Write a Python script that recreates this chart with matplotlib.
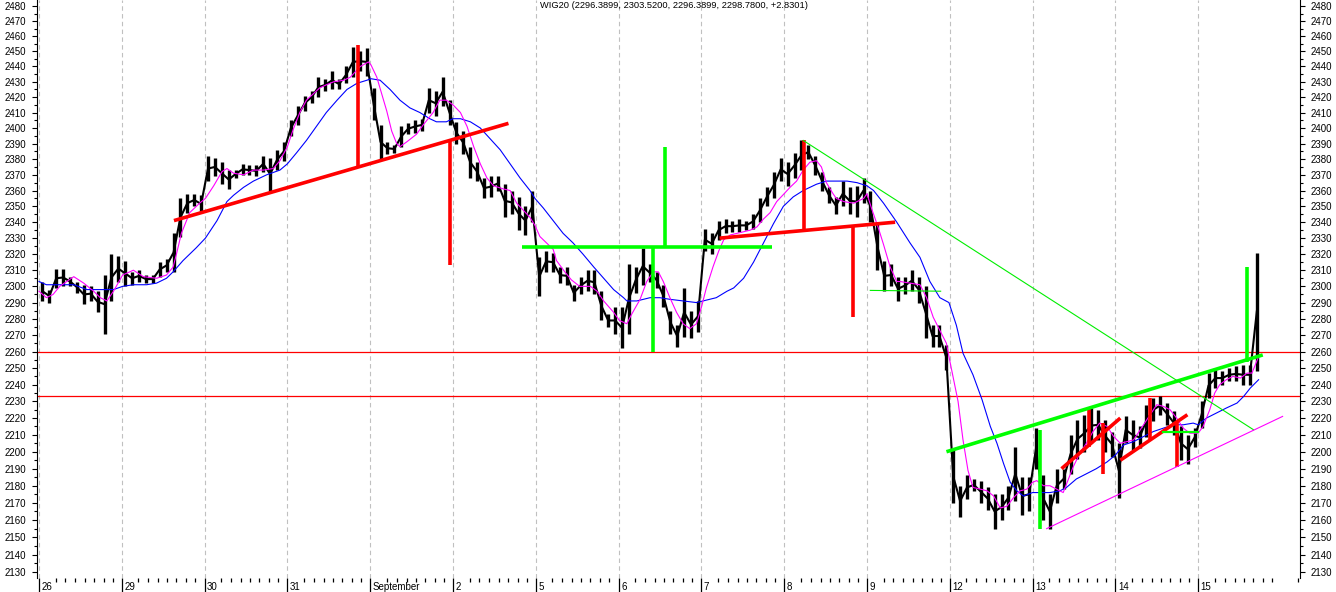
import matplotlib
matplotlib.use("Agg")
import matplotlib.pyplot as plt
import matplotlib.transforms as mtransforms
from matplotlib.ticker import FixedLocator, NullFormatter, FuncFormatter

plt.rcParams['font.family'] = ['Liberation Sans', 'DejaVu Sans']

title = "WIG20 (2296.3899, 2303.5200, 2296.3899, 2298.7800, +2.8301)"
days = ["26", "29", "30", "31", "September", "2", "5", "6", "7", "8",
        "9", "12", "13", "14", "15"]
bars_per_day = 12

# intraday bars, 12 per session (last session unfinished)
bar_low = [
    2291, 2290, 2299, 2300, 2300, 2296, 2289, 2291, 2284, 2271, 2291, 2303,  # 26
    2300, 2301, 2303, 2302, 2302, 2306, 2309, 2309, 2331, 2346, 2350, 2346,  # 29
    2366, 2369, 2364, 2361, 2368, 2370, 2370, 2369, 2372, 2360, 2373, 2379,  # 30
    2395, 2402, 2411, 2416, 2420, 2424, 2425, 2425, 2429, 2433, 2437, 2434,  # 31
    2405, 2380, 2383, 2384, 2388, 2396, 2397, 2398, 2410, 2408, 2414, 2402,  # 1
    2390, 2383, 2368, 2366, 2355, 2356, 2360, 2343, 2345, 2335, 2332, 2340,  # 2
    2294, 2309, 2309, 2302, 2301, 2291, 2295, 2297, 2295, 2279, 2275, 2271,  # 5
    2262, 2271, 2296, 2301, 2303, 2299, 2287, 2271, 2263, 2269, 2268, 2272,  # 6
    2322, 2320, 2329, 2333, 2334, 2334, 2335, 2336, 2340, 2350, 2355, 2366,  # 7
    2363, 2368, 2373, 2380, 2370, 2360, 2352, 2345, 2350, 2345, 2343, 2352,  # 8
    2340, 2310, 2297, 2300, 2291, 2295, 2297, 2290, 2268, 2263, 2263, 2249,  # 9
    2170, 2162, 2172, 2177, 2170, 2166, 2155, 2160, 2166, 2171, 2163, 2165,  # 12
    2190, 2160, 2155, 2170, 2178, 2187, 2196, 2200, 2205, 2207, 2200, 2197,  # 13
    2173, 2205, 2201, 2202, 2209, 2218, 2222, 2216, 2210, 2195, 2193, 2203,  # 14
    2214, 2232, 2238, 2240, 2242, 2242, 2240, 2240, 2248,                    # 15
]
bar_high = [
    2303, 2298, 2311, 2311, 2306, 2303, 2301, 2300, 2297, 2307, 2320, 2319,
    2316, 2309, 2310, 2307, 2307, 2315, 2317, 2333, 2355, 2358, 2358, 2357,
    2382, 2381, 2378, 2373, 2373, 2377, 2376, 2376, 2382, 2381, 2386, 2391,
    2405, 2414, 2421, 2424, 2433, 2432, 2437, 2432, 2440, 2453, 2450, 2452,
    2426, 2402, 2391, 2389, 2401, 2403, 2405, 2406, 2426, 2424, 2433, 2418,
    2404, 2398, 2388, 2378, 2368, 2369, 2369, 2364, 2360, 2356, 2350, 2360,
    2318, 2322, 2321, 2312, 2312, 2301, 2306, 2310, 2310, 2297, 2283, 2287,
    2287, 2314, 2312, 2324, 2314, 2309, 2301, 2285, 2276, 2299, 2285, 2291,
    2336, 2333, 2341, 2342, 2341, 2342, 2341, 2345, 2355, 2362, 2372, 2381,
    2378, 2384, 2392, 2389, 2382, 2372, 2362, 2356, 2366, 2362, 2363, 2368,
    2360, 2340, 2316, 2314, 2306, 2306, 2310, 2306, 2300, 2276, 2276, 2264,
    2201, 2180, 2186, 2184, 2183, 2179, 2175, 2175, 2180, 2203, 2185, 2185,
    2214, 2186, 2175, 2190, 2190, 2210, 2219, 2222, 2226, 2225, 2219, 2212,
    2205, 2221, 2219, 2215, 2228, 2232, 2233, 2229, 2224, 2215, 2210, 2214,
    2230, 2247, 2250, 2248, 2250, 2251, 2252, 2252, 2321,
]

# short moving average (magenta), time in sessions
fast_t = [0.00, 0.09, 0.17, 0.25, 0.42, 0.54, 0.66, 0.74, 0.82, 0.90, 1.01,
          1.14, 1.26, 1.42, 1.54, 1.62, 1.66, 1.72, 1.82, 1.94, 2.01, 2.11,
          2.21, 2.27, 2.35, 2.47, 2.59, 2.71, 2.83, 2.91, 3.00, 3.07, 3.15,
          3.23, 3.31, 3.39, 3.47, 3.56, 3.68, 3.76, 3.88, 3.98, 4.01, 4.08,
          4.14, 4.20, 4.26, 4.32, 4.36, 4.44, 4.56, 4.64, 4.76, 4.84, 4.92,
          5.00, 5.09, 5.17, 5.25, 5.33, 5.41, 5.49, 5.61, 5.69, 5.77, 5.93,
          5.99, 6.05, 6.13, 6.21, 6.25, 6.35, 6.43, 6.53, 6.66, 6.74, 6.82,
          6.94, 7.01, 7.10, 7.16, 7.26, 7.34, 7.42, 7.48, 7.54, 7.62, 7.70,
          7.78, 7.86, 7.94, 8.00, 8.06, 8.14, 8.21, 8.27, 8.35, 8.43, 8.51,
          8.59, 8.67, 8.75, 8.83, 8.91, 9.00, 9.07, 9.15, 9.23, 9.31, 9.39,
          9.45, 9.51, 9.59, 9.63, 9.72, 9.84, 9.96, 10.00, 10.06, 10.14,
          10.20, 10.28, 10.36, 10.40, 10.52, 10.64, 10.72, 10.80, 10.88,
          10.96, 10.99, 11.10, 11.16, 11.22, 11.28, 11.37, 11.45, 11.53,
          11.61, 11.69, 11.77, 11.85, 11.93, 12.00, 12.05, 12.13, 12.21,
          12.29, 12.37, 12.41, 12.49, 12.57, 12.65, 12.73, 12.81, 12.90,
          12.98, 13.06, 13.14, 13.22, 13.30, 13.38, 13.50, 13.58, 13.66,
          13.74, 13.82, 13.90, 14.00, 14.06, 14.14, 14.20, 14.26, 14.34,
          14.42, 14.51, 14.59, 14.65, 14.69, 14.73]
fast_ma = [2297, 2293, 2295, 2300, 2306, 2302, 2297, 2293, 2291, 2297, 2307,
           2310, 2306, 2305, 2307, 2312, 2320, 2333, 2346, 2352, 2355, 2363,
           2372, 2374, 2371, 2370, 2373, 2373, 2374, 2379, 2388, 2399, 2410,
           2418, 2422, 2426, 2428, 2430, 2431, 2433, 2440, 2443, 2441, 2433,
           2422, 2411, 2398, 2390, 2388, 2391, 2396, 2402, 2410, 2418, 2418,
           2415, 2410, 2401, 2388, 2377, 2368, 2363, 2361, 2360, 2352, 2343,
           2338, 2331, 2327, 2323, 2316, 2309, 2304, 2300, 2300, 2297, 2291,
           2284, 2279, 2277, 2283, 2292, 2303, 2309, 2309, 2303, 2293, 2284,
           2277, 2274, 2277, 2287, 2299, 2312, 2322, 2329, 2332, 2333, 2334,
           2335, 2337, 2342, 2346, 2353, 2358, 2362, 2366, 2373, 2378, 2379,
           2375, 2365, 2358, 2355, 2353, 2352, 2355, 2358, 2348, 2336,
           2326, 2312, 2303, 2303, 2302, 2301, 2293, 2281, 2273,
           2265, 2257, 2230, 2207, 2189, 2179, 2178, 2177, 2174,
           2167, 2168, 2173, 2177, 2178, 2182, 2183, 2180, 2180,
           2178, 2176, 2181, 2191, 2199, 2205, 2212, 2217, 2215,
           2209, 2205, 2206, 2207, 2213, 2219, 2228, 2227, 2225,
           2220, 2214, 2211, 2211, 2215, 2225, 2235, 2240, 2243,
           2245, 2244, 2247, 2247, 2252, 2257]

# long moving average (blue)
slow_t = [0.00, 0.09, 0.25, 0.42, 0.58, 0.74, 0.90, 1.01, 1.14, 1.30, 1.42,
          1.54, 1.62, 1.74, 1.90, 2.01, 2.15, 2.27, 2.35, 2.47, 2.59, 2.75,
          2.91, 3.00, 3.11, 3.23, 3.35, 3.47, 3.60, 3.72, 3.84, 3.96, 4.01,
          4.12, 4.24, 4.36, 4.48, 4.60, 4.72, 4.80, 4.92, 5.00, 5.09, 5.21,
          5.33, 5.45, 5.57, 5.69, 5.81, 5.93, 5.99, 6.09, 6.21, 6.33, 6.45,
          6.57, 6.70, 6.82, 6.94, 7.06, 7.10, 7.22, 7.38, 7.50, 7.62, 7.78,
          7.94, 8.02, 8.18, 8.31, 8.39, 8.51, 8.63, 8.75, 8.87, 8.99, 9.11,
          9.23, 9.39, 9.51, 9.63, 9.76, 9.88, 10.00, 10.08, 10.20, 10.36,
          10.52, 10.64, 10.76, 10.88, 10.99, 11.08, 11.16, 11.28, 11.39,
          11.49, 11.57, 11.65, 11.73, 11.81, 11.89, 12.00, 12.09, 12.21,
          12.33, 12.41, 12.53, 12.65, 12.77, 12.90, 13.00, 13.10, 13.22,
          13.34, 13.46, 13.58, 13.70, 13.82, 13.94, 14.00, 14.10, 14.22,
          14.34, 14.47, 14.55, 14.63, 14.73]
slow_ma = [2303, 2301, 2301, 2301, 2298, 2298, 2298, 2300, 2301, 2301, 2302,
           2305, 2309, 2316, 2324, 2330, 2341, 2353, 2357, 2362, 2366, 2370,
           2373, 2377, 2384, 2392, 2401, 2410, 2418, 2425, 2429, 2431, 2432,
           2431, 2425, 2418, 2413, 2410, 2406, 2404, 2404, 2406, 2406, 2404,
           2400, 2393, 2386, 2377, 2368, 2360, 2355, 2349, 2341, 2333, 2327,
           2320, 2312, 2305, 2298, 2293, 2291, 2291, 2293, 2293, 2292, 2291,
           2290, 2291, 2293, 2297, 2299, 2305, 2315, 2327, 2339, 2350, 2356,
           2360, 2364, 2366, 2366, 2366, 2365, 2363, 2360, 2352, 2340,
           2327, 2318, 2303, 2293, 2290, 2276, 2259, 2246, 2231,
           2215, 2205, 2193, 2182, 2177, 2174, 2176, 2176, 2176,
           2177, 2179, 2184, 2187, 2190, 2194, 2198, 2204, 2206,
           2209, 2212, 2214, 2216, 2216, 2217, 2216, 2220, 2223,
           2226, 2229, 2233, 2238, 2243]

# support / resistance levels
levels = [2260, 2233.5]

# drawn pattern lines: (t0, p0, t1, p1)
red_thick = [(1.63, 2341, 5.67, 2403), (3.85, 2375, 3.85, 2454),
             (4.97, 2392, 4.97, 2313), (8.22, 2330, 10.34, 2340),
             (9.24, 2392, 9.24, 2335), (9.83, 2338, 9.83, 2281),
             (12.35, 2190, 13.06, 2220), (12.68, 2226, 12.68, 2203),
             (12.85, 2217, 12.85, 2187), (13.06, 2195, 13.87, 2222),
             (13.42, 2232, 13.42, 2207), (13.75, 2218, 13.75, 2191)]
green_thick = [(5.83, 2324.5, 8.85, 2324.5), (7.56, 2388, 7.56, 2324.5),
               (7.42, 2324.5, 7.42, 2260), (10.96, 2200, 14.78, 2258),
               (12.09, 2213, 12.09, 2155), (14.59, 2312, 14.59, 2254)]
green_thin = [(9.23, 2392, 14.67, 2213), (10.04, 2297.5, 10.89, 2297)]
green_mid = [(13.58, 2212, 14.0, 2212)]
magenta_thin = [(12.17, 2155, 15.02, 2221)]

fig = plt.figure(figsize=(13.36, 5.92), dpi=100)
ax = fig.add_axes([37 / 1336, 14 / 592, 1263 / 1336, 578 / 592])
ax.set_yscale('log')

for d in range(len(days)):
    ax.axvline(d, color='#c0c0c0', lw=0.8, ls=(0, (4, 3)), zorder=0)
for lv in levels:
    ax.axhline(lv, color='#ff0000', lw=0.9, zorder=1)

bx = [i // bars_per_day + (i % bars_per_day + 0.5) / bars_per_day
      for i in range(len(bar_low))]
mid = [(lo + hi) / 2 for lo, hi in zip(bar_low, bar_high)]
ax.vlines(bx, bar_low, bar_high, color='black', lw=2.4, zorder=3)
ax.plot(bx, mid, color='black', lw=1.5, zorder=3)

ax.plot(slow_t, slow_ma, color='#0000ff', lw=0.8, zorder=4)
ax.plot(fast_t, fast_ma, color='#ff00ff', lw=0.8, zorder=4)

for t0, p0, t1, p1 in red_thick:
    ax.plot([t0, t1], [p0, p1], color='#ff0000', lw=2.6,
            solid_capstyle='butt', zorder=5)
for t0, p0, t1, p1 in green_thick:
    ax.plot([t0, t1], [p0, p1], color='#00ff00', lw=2.6,
            solid_capstyle='butt', zorder=5)
for t0, p0, t1, p1 in green_thin:
    ax.plot([t0, t1], [p0, p1], color='#00ee00', lw=0.8, zorder=5)
for t0, p0, t1, p1 in green_mid:
    ax.plot([t0, t1], [p0, p1], color='#00ff00', lw=1.6, zorder=5)
for t0, p0, t1, p1 in magenta_thin:
    ax.plot([t0, t1], [p0, p1], color='#ff00ff', lw=0.8, zorder=5)

ax.set_xlim(-0.024, 15.23)
ax.set_ylim(2126.6, 2484)

# price axis on both sides
ax.yaxis.set_major_locator(FixedLocator(list(range(2130, 2481, 10))))
ax.yaxis.set_minor_locator(FixedLocator(list(range(2135, 2481, 10))))
ax.yaxis.set_major_formatter(FuncFormatter(lambda v, p: "%d" % round(v)))
ax.yaxis.set_minor_formatter(NullFormatter())
ax.tick_params(axis='y', which='both', left=True, right=True,
               labelleft=True, labelright=True, direction='out',
               labelsize=7, width=0.8, pad=4)
ax.tick_params(axis='y', which='major', length=3.6)
ax.tick_params(axis='y', which='minor', length=2.0)

# session axis
ax.set_xticks(range(len(days)))
ax.set_xticklabels([])
minor_x = [d + f for d in range(len(days) + 1)
           for f in (0.2, 0.32, 0.44, 0.55, 0.66, 0.78, 0.89)]
ax.xaxis.set_minor_locator(FixedLocator([m for m in minor_x if m < 15.23]))
ax.tick_params(axis='x', which='major', length=10, width=0.9, direction='out')
ax.tick_params(axis='x', which='minor', length=3, width=0.9, direction='out')

trans = mtransforms.blended_transform_factory(ax.transData, ax.transAxes)
for d, lab in enumerate(days):
    ax.text(d + 0.03, -9 / 578, lab, transform=trans, ha='left', va='center',
            fontsize=7)

for side in ('top', 'bottom'):
    ax.spines[side].set_visible(False)
for side in ('left', 'right'):
    ax.spines[side].set_linewidth(0.8)

fig.text(540 / 1336, 1 - 6 / 592, title, ha='left', va='center', fontsize=6.7)

fig.savefig('out.png', dpi=100)
